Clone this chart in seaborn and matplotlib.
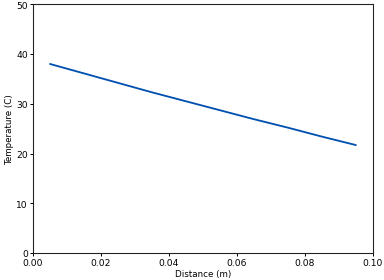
import numpy as np
import pandas as pd
import matplotlib
matplotlib.use("Agg")
import matplotlib.pyplot as plt
import seaborn as sns

# Temperature profile along the rod
distance = [0.005, 0.015, 0.025, 0.035, 0.045, 0.055, 0.065, 0.075, 0.085, 0.095]
temperature = [38.0, 36.1, 34.2, 32.3, 30.5, 28.7, 26.9, 25.2, 23.4, 21.7]

df = pd.DataFrame({'Distance (m)': distance, 'Temperature (C)': temperature})

sns.set_style('ticks', {'axes.edgecolor': 'black', 'xtick.color': 'black', 'ytick.color': 'black',
                        'text.color': 'black', 'axes.labelcolor': 'black'})
plt.rcParams['font.family'] = ['DejaVu Sans']

fig, ax = plt.subplots(figsize=(6.4, 4.68), dpi=60)
sns.lineplot(data=df, x='Distance (m)', y='Temperature (C)', color='#0050b0', linewidth=2.2, ax=ax)

ax.set_xlim(0, 0.1)
ax.set_ylim(0, 50)
ax.set_xticks([0.0, 0.02, 0.04, 0.06, 0.08, 0.10])
ax.set_xticklabels(['0.00', '0.02', '0.04', '0.06', '0.08', '0.10'])
ax.set_yticks([0, 10, 20, 30, 40, 50])
ax.tick_params(labelsize=11, width=1.2, length=3.5, pad=2.5)
ax.set_xlabel('Distance (m)', fontsize=10.5, labelpad=3)
ax.set_ylabel('Temperature (C)', fontsize=10.5, labelpad=3)
for s in ax.spines.values():
    s.set_linewidth(1.3)
    s.set_color('#222222')

fig.subplots_adjust(left=0.086, right=0.971, top=0.982, bottom=0.096)
fig.savefig('out.png', dpi=60)
